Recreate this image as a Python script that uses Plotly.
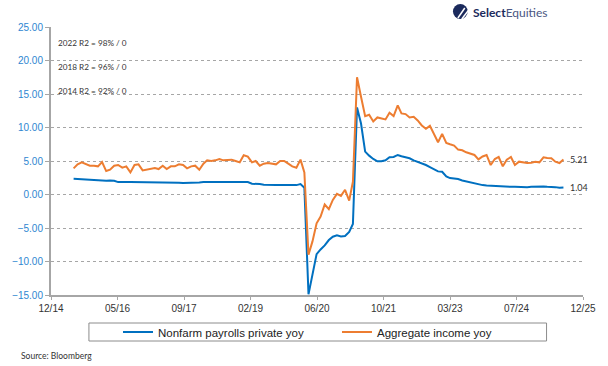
import datetime as dt
import plotly.graph_objects as go

# ---- data (monthly, Jun 2015 .. Jul 2025) ----
start_year, start_month, n_months = 2015, 6, 122
months = []
y, m = start_year, start_month
for _ in range(n_months):
    months.append(f"{y:04d}-{m:02d}-15")
    m += 1
    if m > 12:
        m = 1
        y += 1

payrolls_yoy = [
    2.35, 2.3, 2.25, 2.2, 2.15, 2.1, 2.1, 2.05, 2.05, 2.1,
    2.05, 1.85, 1.8, 1.85, 1.85, 1.85, 1.8, 1.8, 1.85, 1.85,
    1.8, 1.85, 1.85, 1.8, 1.8, 1.8, 1.75, 1.7, 1.7, 1.7,
    1.75, 1.8, 1.85, 1.85, 1.85, 1.85, 1.8, 1.85, 1.85, 1.85,
    1.85, 1.85, 1.85, 1.85, 1.6, 1.6, 1.55, 1.45, 1.4, 1.4,
    1.4, 1.4, 1.4, 1.35, 1.35, 1.4, 1.55, 1.0, -14.9, -12.0,
    -8.9, -8.2, -7.6, -6.8, -6.3, -6.1, -6.25, -6.2, -5.6, -4.4,
    13.0, 10.6, 6.4, 5.8, 5.3, 4.95, 4.95, 5.1, 5.55, 5.6,
    5.9, 5.7, 5.6, 5.4, 5.1, 4.9, 4.65, 4.4, 4.1, 3.8,
    3.45, 3.4, 2.7, 2.45, 2.4, 2.3, 2.1, 1.95, 1.75, 1.6,
    1.45, 1.4, 1.35, 1.3, 1.3, 1.3, 1.25, 1.2, 1.15, 1.15,
    1.1, 1.1, 1.1, 1.15, 1.2, 1.2, 1.2, 1.15, 1.15, 1.1,
    1.0, 1.04,
]

income_yoy = [
    3.9, 4.5, 4.8, 4.6, 4.3, 4.3, 4.2, 4.85, 3.5, 3.7,
    4.3, 4.4, 4.0, 4.2, 3.3, 4.4, 4.5, 3.6, 3.7, 3.9,
    3.95, 3.8, 4.3, 3.8, 4.2, 4.2, 4.5, 4.4, 3.9, 4.2,
    4.3, 3.7, 4.6, 5.1, 5.0, 5.1, 5.3, 5.1, 5.2, 5.2,
    5.0, 4.8, 5.85, 5.65, 4.8, 5.0, 4.3, 4.6, 4.7, 4.6,
    4.5, 5.0, 5.0, 4.6, 4.2, 4.0, 5.2, 3.3, -9.0, -7.0,
    -4.3, -3.3, -1.5, -2.2, -0.8, 0.1, -0.2, 0.7, -0.9, 1.9,
    17.5, 14.6, 11.7, 11.9, 10.9, 11.5, 11.3, 11.2, 12.2, 11.7,
    13.3, 12.1, 12.0, 11.5, 11.6, 11.05, 10.3, 9.8, 10.25, 8.9,
    7.8, 9.05, 7.7, 7.5, 7.3, 6.7, 6.6, 6.3, 6.1, 5.9,
    5.25, 5.67, 5.9, 4.4, 5.3, 5.6, 4.2, 5.2, 5.6, 4.4,
    4.9, 4.8, 4.7, 4.75, 4.9, 4.8, 5.55, 5.45, 5.4, 4.9,
    4.7, 5.21,
]

series_names = ["Nonfarm payrolls private yoy", "Aggregate income yoy"]
series_colors = ["#0070C0", "#ED7D31"]
r2_labels = ["2022 R2 = 98% / 0", "2018 R2 = 96% / 0", "2014 R2 = 92% / 0"]

# x axis: Excel-style date axis, 500-day major unit
excel_epoch = dt.date(1899, 12, 30)
axis_min_serial, axis_max_serial, major_unit = 42000, 46000, 500
tick_dates = [excel_epoch + dt.timedelta(days=s)
              for s in range(axis_min_serial, axis_max_serial + 1, major_unit)]
tick_vals = [d.isoformat() for d in tick_dates]
tick_text = [d.strftime("%m/%y") for d in tick_dates]

# ---- layout geometry (pixels) ----
W, H = 608, 366
ML, MR, MT, MB = 45, 23, 27, 71
PW, PH = W - ML - MR, H - MT - MB


def px(x):
    return (x - ML) / PW


def py(y):
    return (H - MB - y) / PH


fig = go.Figure()
for vals, name, col in zip([payrolls_yoy, income_yoy], series_names, series_colors):
    fig.add_trace(go.Scatter(x=months, y=vals, mode="lines", name=name,
                             line=dict(color=col, width=2)))

# end labels
for vals in [income_yoy, payrolls_yoy]:
    fig.add_annotation(x=months[-1], y=vals[-1], text=f"{vals[-1]:.2f}",
                       showarrow=False, xanchor="left", xshift=5,
                       font=dict(family="Lato", size=9, color="#333333"))

# R2 notes
for lab, yy in zip(r2_labels, [43, 67, 91]):
    fig.add_annotation(xref="paper", yref="paper", x=px(50), y=py(yy), text=lab,
                       showarrow=False, xanchor="left", yanchor="middle",
                       font=dict(family="Lato", size=8.2, color="#333333"))

# source
fig.add_annotation(xref="paper", yref="paper", x=px(13), y=py(356),
                   text="Source: Bloomberg", showarrow=False, xanchor="left",
                   yanchor="middle", font=dict(family="Lato", size=8.5, color="#333333"))

# logo
fig.add_annotation(xref="paper", yref="paper", x=px(471), y=py(13),
                   text="<b>Select</b><span style='color:#4A5682'>Equities</span>",
                   showarrow=False, xanchor="left", yanchor="middle",
                   font=dict(family="Lato", size=12, color="#1B2A5C"))
fig.add_shape(type="circle", xref="paper", yref="paper",
              x0=px(453), x1=px(468), y0=py(19), y1=py(4),
              fillcolor="#1B2A5C", line=dict(width=0))
fig.add_shape(type="line", xref="paper", yref="paper",
              x0=px(458), y0=py(18), x1=px(465), y1=py(8),
              line=dict(color="white", width=1.5))
fig.add_shape(type="line", xref="paper", yref="paper",
              x0=px(462), y0=py(19), x1=px(469), y1=py(10),
              line=dict(color="white", width=1.5))

# legend box
fig.add_shape(type="rect", xref="paper", yref="paper",
              x0=px(83.5), x1=px(548), y0=py(341), y1=py(323),
              line=dict(color="#8C8C8C", width=1), fillcolor="rgba(0,0,0,0)")

fig.update_layout(
    width=W, height=H,
    margin=dict(l=ML, r=MR, t=MT, b=MB),
    paper_bgcolor="white", plot_bgcolor="white",
    hovermode=False,
    showlegend=True,
    legend=dict(orientation="h", x=px(113), y=py(332), xanchor="left",
                yanchor="middle", entrywidth=174, itemwidth=30,
                font=dict(family="Liberation Sans", size=11.5, color="#222222"),
                bgcolor="rgba(0,0,0,0)"),
    xaxis=dict(type="date",
               range=[tick_vals[0], tick_vals[-1]],
               tickmode="array", tickvals=tick_vals, ticktext=tick_text,
               showgrid=False, showline=True, linecolor="#A6A6A6", linewidth=1.5,
               ticks="outside", ticklen=3, tickcolor="#A6A6A6",
               tickfont=dict(family="Liberation Sans", size=10, color="#333333"),
               zeroline=False),
    yaxis=dict(range=[-15, 25], dtick=5, tick0=-15, tickformat=".2f",
               showgrid=True, gridcolor="#A6A6A6", griddash="dot", gridwidth=1,
               showline=True, linecolor="#A6A6A6", linewidth=2,
               ticks="outside", ticklen=4, tickcolor="#A6A6A6",
               tickfont=dict(family="Liberation Sans", size=10, color="#2E86D1"),
               zeroline=False),
)

fig.write_html("out.html", config={"displayModeBar": False},
               post_script="document.body.style.margin='0px';document.body.style.overflow='hidden';")
